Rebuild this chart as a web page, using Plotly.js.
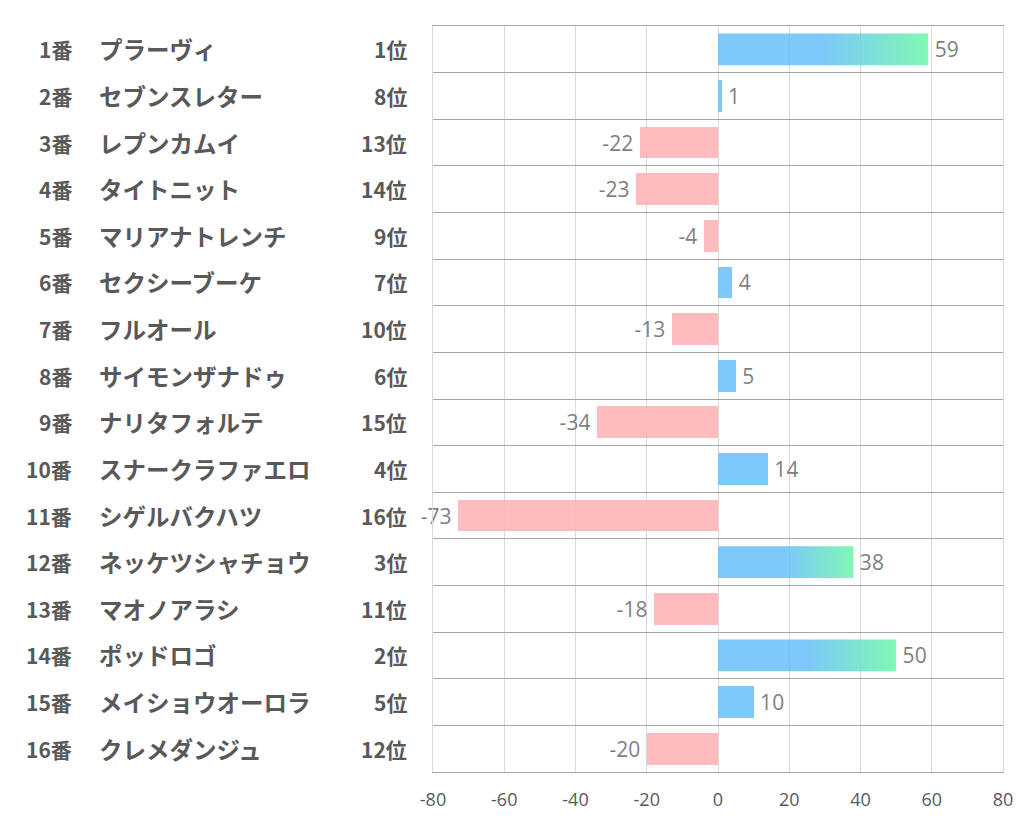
<!DOCTYPE html>
<html><head><meta charset="utf-8">
<script src="https://cdn.plot.ly/plotly-3.0.1.min.js"></script>
<style>html,body{margin:0;padding:0;background:#fff}#chart{width:1022px;height:834px}</style>
</head><body><div id="chart"></div>
<script>
const numbers = ["1番","2番","3番","4番","5番","6番","7番","8番","9番","10番","11番","12番","13番","14番","15番","16番"];
const names = ["プラーヴィ","セブンスレター","レプンカムイ","タイトニット","マリアナトレンチ","セクシーブーケ","フルオール","サイモンザナドゥ","ナリタフォルテ","スナークラファエロ","シゲルバクハツ","ネッケツシャチョウ","マオノアラシ","ポッドロゴ","メイショウオーロラ","クレメダンジュ"];
const ranks = [1,8,13,14,9,7,10,6,15,4,16,3,11,2,5,12];
const values = [59,1,-22,-23,-4,4,-13,5,-34,14,-73,38,-18,50,10,-20];
const xTicks = [-80,-60,-40,-20,0,20,40,60,80];

const BLUE = 'rgba(101,191,249,0.85)';
const PINK = 'rgba(255,175,179,0.85)';
const GREEN = 'rgba(106,247,167,0.85)';
const HALF = 0.34;
const idx = values.map((v,i)=>i);
const isTop = r => r <= 3;
const SP = '\u2009';

const traces = [{
  type:'bar', orientation:'h', x: values, y: idx, width: 2*HALF,
  marker:{color: values.map((v,i)=> isTop(ranks[i]) ? 'rgba(0,0,0,0)' : (v>=0?BLUE:PINK)), line:{width:0}},
  text: values.map(v => v>=0 ? SP+v : v+SP), textposition:'outside', constraintext:'none', cliponaxis:false,
  textfont:{family:'Open Sans, Noto Sans, sans-serif', size:21, color:'#7F7F7F'},
  hoverinfo:'skip'
}];
values.forEach((v,i)=>{
  if(!isTop(ranks[i])) return;
  traces.push({
    type:'scatter', mode:'lines', line:{width:0}, fill:'toself',
    x:[0, v, v, 0, 0], y:[i-HALF, i-HALF, i+HALF, i+HALF, i-HALF],
    fillgradient:{type:'horizontal', colorscale:[[0,BLUE],[0.5,BLUE],[1,GREEN]]},
    hoverinfo:'skip', showlegend:false
  });
});

const L = 433, W = 570;
const px = p => (p - L)/W;
const annFont = {family:'Noto Sans CJK JP, sans-serif', size:21, color:'#595959', weight:700};
const nameFont = {family:'Noto Sans CJK JP, sans-serif', size:23.5, color:'#595959', weight:700};
const annotations = [];
idx.forEach(i=>{
  annotations.push({xref:'paper', yref:'y', x:px(74), y:i, xanchor:'right', yanchor:'middle', text:numbers[i], showarrow:false, font:annFont});
  annotations.push({xref:'paper', yref:'y', x:px(97), y:i, xanchor:'left', yanchor:'middle', text:names[i], showarrow:false, font:nameFont});
  annotations.push({xref:'paper', yref:'y', x:px(409), y:i, xanchor:'right', yanchor:'middle', text:ranks[i]+'位', showarrow:false, font:annFont});
});

const layout = {
  width:1022, height:834,
  margin:{l:433, r:19, t:26, b:62},
  paper_bgcolor:'#fff', plot_bgcolor:'#fff',
  showlegend:false,
  xaxis:{range:[-80,80], tickvals:xTicks, ticktext:xTicks.map(String), showgrid:true, gridcolor:'#D9D9D9', gridwidth:1,
    zeroline:false, showline:true, mirror:true, linecolor:'#A6A6A6', linewidth:1,
    ticks:'outside', ticklen:11, tickcolor:'rgba(0,0,0,0)',
    tickfont:{family:'Open Sans, Noto Sans, sans-serif', size:18, color:'#595959'}, fixedrange:true},
  yaxis:{range:[15.5,-0.5], tickvals:idx.slice(0,15).map(i=>i+0.5), showticklabels:false, ticks:'',
    showgrid:true, gridcolor:'#A6A6A6', gridwidth:1, zeroline:false,
    showline:true, mirror:true, linecolor:'#D9D9D9', linewidth:1, fixedrange:true},
  annotations: annotations,
  bargap:0
};
Plotly.newPlot('chart', traces, layout, {displayModeBar:false, staticPlot:true});
</script></body></html>
